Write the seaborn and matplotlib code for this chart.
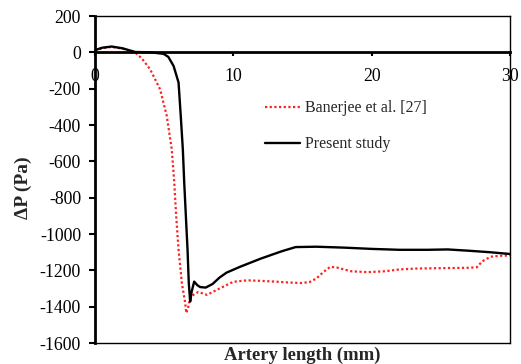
import matplotlib
matplotlib.use("Agg")
import matplotlib.pyplot as plt
import seaborn as sns
import pandas as pd

# Present study (solid black)
present_x = [0, 0.5, 1.2, 2.0, 2.9, 4.0, 4.95, 5.3, 5.68, 6.04, 6.2, 6.35, 6.45, 6.57, 6.69,
             6.78, 6.88, 6.98, 7.17, 7.4, 7.6, 8.0, 8.5, 9.0, 9.5, 10.5, 12.0, 13.5, 14.5,
             16, 18, 20, 22, 24, 25.5, 27, 28.5, 30]
present_y = [12, 25, 32, 22, 2, 0, -8, -25, -75, -166, -351, -535, -717, -903, -1087,
             -1270, -1372, -1320, -1262, -1282, -1292, -1295, -1275, -1240, -1213, -1180,
             -1135, -1095, -1072, -1070, -1075, -1082, -1087, -1087, -1085, -1092, -1100, -1110]

# Banerjee et al. [27] (red dotted)
ban_x = [0, 0.5, 1.2, 2.0, 2.9, 3.4, 3.99, 4.71, 5.19, 5.55, 5.73, 5.87, 6.04, 6.28, 6.52,
         6.6, 6.75, 6.88, 7.46, 8.1, 9.0, 10.0, 11.0, 12.0, 13.0, 14.0, 14.9, 15.5, 16.0,
         16.5, 17.0, 17.5, 18.5, 19.7, 21, 22, 23.3, 25, 27.0, 27.6, 28.0, 28.6, 29.3, 30]
ban_y = [10, 22, 30, 20, 0, -35, -94, -204, -351, -535, -717, -903, -1087, -1270, -1380,
         -1435, -1400, -1346, -1319, -1335, -1300, -1263, -1255, -1258, -1262, -1267, -1270,
         -1265, -1245, -1210, -1181, -1185, -1205, -1210, -1205, -1195, -1190, -1188, -1186,
         -1183, -1150, -1125, -1120, -1118]

x_ticks = [0, 10, 20, 30]
y_ticks = list(range(-1600, 201, 200))

sns.set_style("white")
plt.rcParams['font.family'] = ['Liberation Serif', 'DejaVu Serif']
plt.rcParams['axes.unicode_minus'] = False

fig = plt.figure(figsize=(5.21, 3.64), dpi=100)
ax = fig.add_axes([95/521, 21/364, 415/521, 327/364])

df_b = pd.DataFrame({"x": ban_x, "y": ban_y})
df_p = pd.DataFrame({"x": present_x, "y": present_y})
sns.lineplot(data=df_b, x="x", y="y", ax=ax, color="#ff2020", linestyle=(0, (1, 1.1)),
             linewidth=1.6, sort=False, estimator=None, label="Banerjee et al. [27]")
sns.lineplot(data=df_p, x="x", y="y", ax=ax, color="black", linewidth=1.7,
             sort=False, estimator=None, label="Present study")

ax.set_xlim(0, 30)
ax.set_ylim(-1600, 200)
ax.set_xticks(x_ticks)
ax.set_yticks(y_ticks)

for s in ["top", "right"]:
    ax.spines[s].set_linewidth(1.0)
    ax.spines[s].set_color("black")
ax.spines["left"].set_linewidth(2.0)
ax.spines["left"].set_color("black")
ax.spines["bottom"].set_position(("data", 0))
ax.spines["bottom"].set_linewidth(2.0)
ax.spines["bottom"].set_color("black")
ax.axhline(-1600, color="black", linewidth=1.0, clip_on=False)

ax.tick_params(axis="y", direction="out", length=4, width=1.5, pad=6, labelsize=12.8,
               left=True, colors="black")
ax.tick_params(axis="x", direction="out", length=3, width=1.5, pad=8, labelsize=12.8,
               bottom=True, colors="black")

ax.set_xlabel("Artery length (mm)", fontsize=13.4, fontweight="bold")
ax.xaxis.set_label_coords(0.5, -0.01)
ax.xaxis.label.set_va("top")
ax.set_ylabel("ΔP (Pa)", fontsize=14, fontweight="bold")
ax.yaxis.label.set_va("center")
ax.yaxis.set_label_coords(-0.173, 0.474)

ax.legend(loc="upper left", bbox_to_anchor=(0.375, 0.786), frameon=False, fontsize=11.5,
          handlelength=2.2, handletextpad=0.3, labelspacing=1.25)

fig.savefig("out.png", dpi=100)
